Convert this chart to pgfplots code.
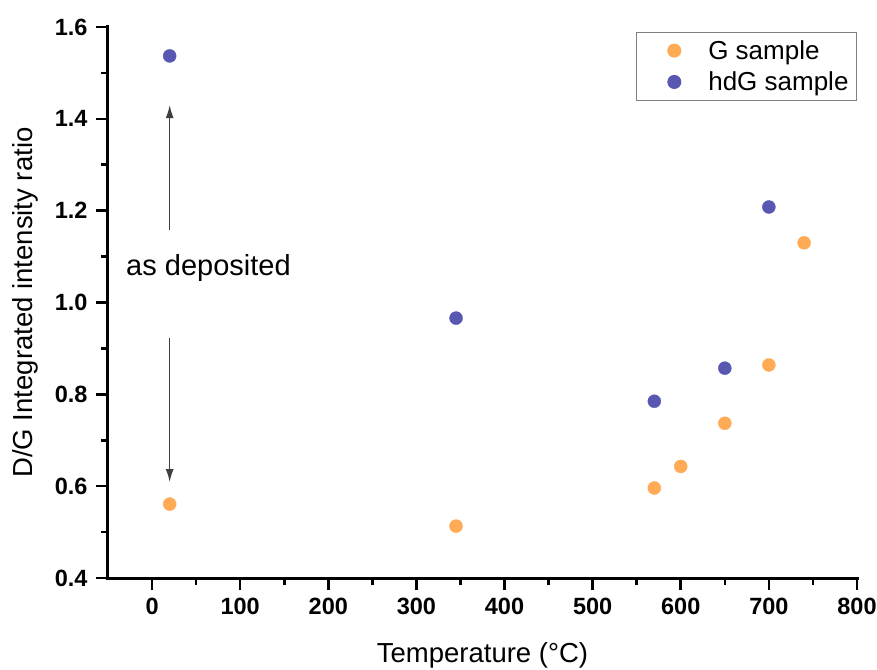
\documentclass[border=0pt]{standalone}
\usepackage{fontspec}
\setmainfont{Liberation Sans}
\usepackage{pgfplots}
\pgfplotsset{compat=1.18}
\usetikzlibrary{arrows.meta}
\definecolor{gorange}{RGB}{255,170,85}
\definecolor{hdblue}{RGB}{88,88,178}
\pgfplotsset{legimg/.style={legend image code/.code={%
    \path[draw=none, fill=none] (0pt,-4pt) rectangle (64pt,4pt);
    \draw[only marks] plot coordinates {(32pt,0pt)};}}}
\begin{document}
\begin{tikzpicture}
\begin{axis}[
    scale only axis,
    width=749pt, height=551pt,
    xmin=-50, xmax=800, ymin=0.4, ymax=1.6,
    axis x line*=bottom, axis y line*=left,
    axis line style={line width=3pt, line cap=rect},
    xtick={0,100,...,800}, ytick={0.4,0.6,...,1.61},
    minor x tick num=1, minor y tick num=1,
    tick align=outside,
    major tick length=12pt, minor tick length=7pt,
    every tick/.style={black, line width=2.6pt},
    /pgf/number format/assume math mode=true,
    /pgf/number format/fixed, /pgf/number format/fixed zerofill,
    yticklabel style={/pgf/number format/precision=1, xshift=-5pt},
    xticklabel style={/pgf/number format/precision=0, yshift=-5pt},
    ticklabel style={font=\fontsize{23.5}{26}\selectfont\bfseries},
    xlabel={Temperature (°C)},
    ylabel={D/G Integrated intensity ratio},
    label style={font=\fontsize{27.5}{30}\selectfont},
    xlabel style={at={([yshift=-77pt]axis description cs:0.5,0)}, anchor=center},
    ylabel style={at={([xshift=-83pt]axis description cs:0,0.5)}, anchor=center},
    legend style={at={(1,0.991)}, anchor=north east, draw=gray, line width=1pt,
        font=\fontsize{26}{28}\selectfont, inner xsep=6pt, inner ysep=6pt,
        row sep=7pt},
    legend cell align=left,
    clip=false,
]
\addplot[only marks, mark=*, mark size=6.5pt, color=gorange, legimg] coordinates {
    (20,0.561) (345,0.513) (570,0.596) (600,0.643) (650,0.737) (700,0.864) (740,1.130)
};
\addlegendentry{G sample}
\addplot[only marks, mark=*, mark size=6.5pt, color=hdblue, legimg] coordinates {
    (20,1.537) (345,0.966) (570,0.785) (650,0.857) (700,1.208)
};
\addlegendentry{hdG sample}
\draw[-{Latex[length=13pt,width=8pt]}, line width=1.3pt, black!75] (axis cs:20,1.158) -- (axis cs:20,1.430);
\draw[-{Latex[length=13pt,width=8pt]}, line width=1.3pt, black!75] (axis cs:20,0.923) -- (axis cs:20,0.609);
\node[font=\fontsize{29}{31}\selectfont] at (axis cs:64,1.075) {as deposited};
\end{axis}
\pgfresetboundingbox
\path[use as bounding box] (-108pt,-91pt) rectangle (769pt,578pt);
\end{tikzpicture}
\end{document}
